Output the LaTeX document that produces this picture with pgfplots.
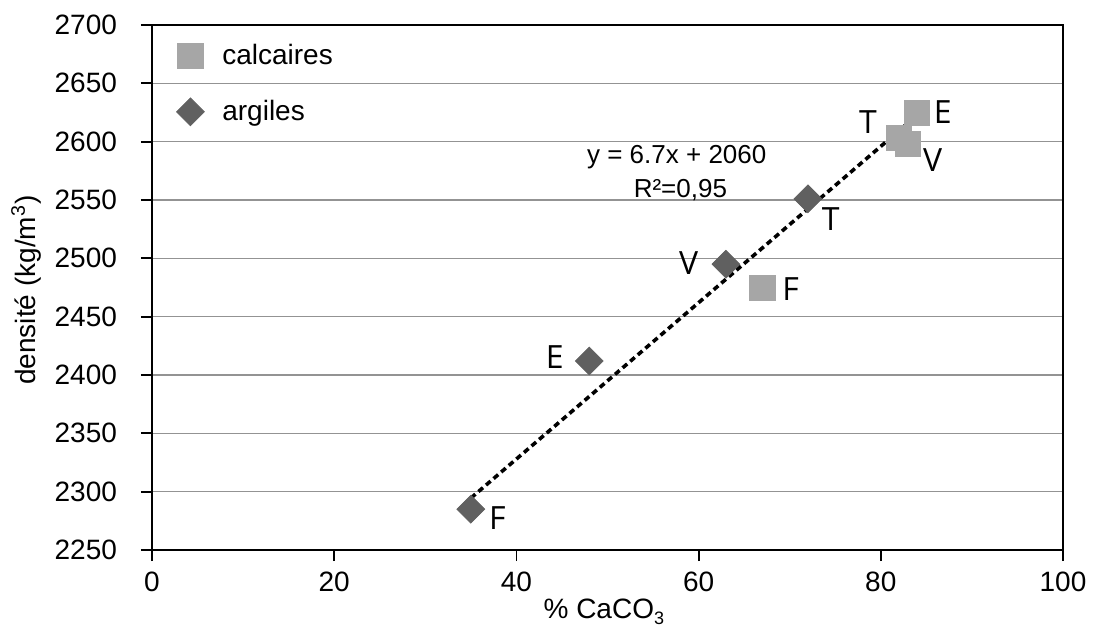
\documentclass[border=0pt]{standalone}
\usepackage{fontspec}
\setmainfont{Liberation Sans}
\newfontfamily\lab{Open Sans}
\usepackage{pgfplots}
\pgfplotsset{compat=1.18}
\definecolor{calc}{HTML}{A6A6A6}
\definecolor{arg}{HTML}{606060}
\begin{document}
\begin{tikzpicture}
\path[use as bounding box] (-76pt,-39.5pt) rectangle (470.5pt,275pt);
\begin{axis}[
  scale only axis, width=455.5pt, height=262.5pt,
  xmin=0, xmax=100, ymin=2250, ymax=2700,
  xtick={0,20,...,100}, ytick={2250,2300,...,2700},
  ymajorgrids, grid style={gray!85, line width=0.6pt},
  axis line style={line width=0.9pt},
  tick align=outside, major tick length=5.5pt, tick style={black, line width=0.9pt},
  xtick pos=left, ytick pos=left,
  font=\fontsize{14}{16}\selectfont,
  yticklabel style={xshift=-8.5pt},
  xticklabel style={yshift=-2pt},
  /pgf/number format/assume math mode=true,
  /pgf/number format/1000 sep={},
  xlabel={\% CaCO\raisebox{-3pt}{\fontsize{9}{9}\selectfont 3}},
  xlabel style={at={(axis description cs:0.496,-0.131)}, anchor=base},
  ylabel={densité (kg/m\textsuperscript{3})},
  ylabel style={at={(axis description cs:-0.138,0.495)}, anchor=center},
  legend style={at={(axis description cs:0.02,0.98)}, anchor=north west, draw=none, fill=none, row sep=12.5pt, column sep=7pt, font=\fontsize{14}{16}\selectfont},
  legend cell align=left,
]
\addplot[only marks, mark=square*, mark size=6.3pt, color=calc] coordinates {(84,2625)(82,2603)(83,2598)(67,2475)};
\addlegendentry{calcaires}
\addplot[only marks, mark=square*, mark options={rotate=45}, mark size=4.9pt, color=arg] coordinates {(35,2285)(48,2412)(63,2495)(72,2551)};
\addlegendentry{argiles}
\addplot[black, line width=1.8pt, dash pattern=on 3pt off 2pt, forget plot] coordinates {(35,2294.5)(84,2622.8)};
\begin{scope}[every node/.style={font=\lab\fontsize{16}{18}\selectfont}]
\node at (axis cs:86.8,2625) {E};
\node at (axis cs:78.6,2617) {T};
\node at (axis cs:85.7,2584) {V};
\node at (axis cs:74.5,2534) {T};
\node at (axis cs:58.9,2496) {V};
\node at (axis cs:70.1,2474) {F};
\node at (axis cs:44.2,2415) {E};
\node at (axis cs:37.9,2277) {F};
\end{scope}
\node[font=\fontsize{13}{15}\selectfont] at (axis cs:57.6,2587) {y = 6.7x + 2060};
\node[font=\fontsize{13}{15}\selectfont] at (axis cs:58,2558.5) {R²=0,95};
\end{axis}
\end{tikzpicture}
\end{document}
